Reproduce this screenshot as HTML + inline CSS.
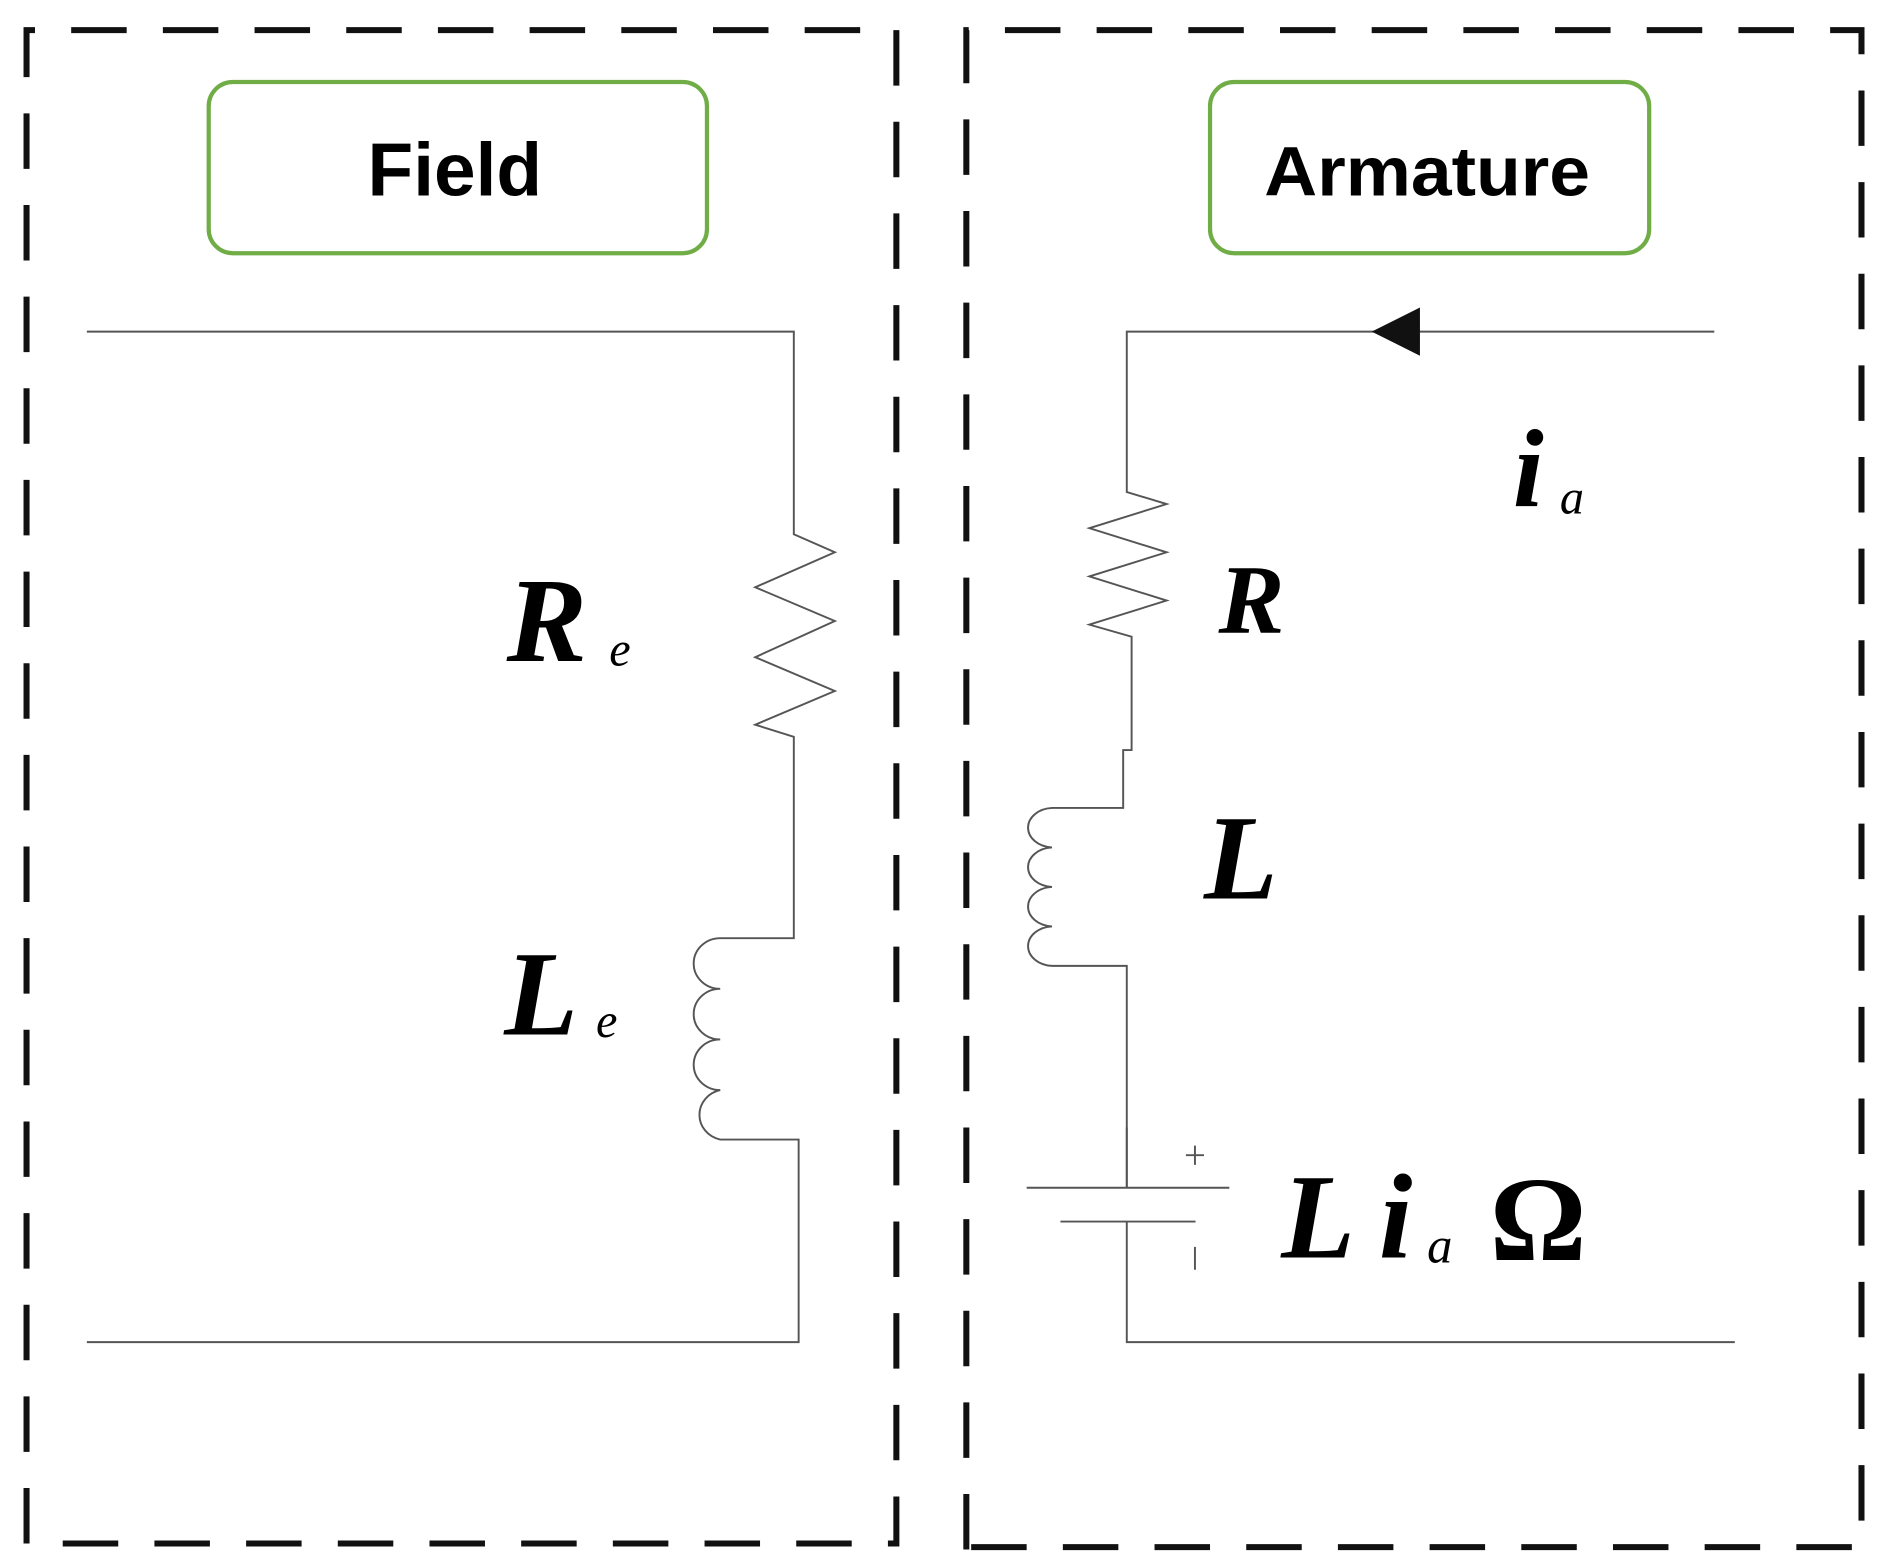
<!DOCTYPE html>
<html><head><style>
html,body{margin:0;padding:0;background:#fff;}
svg{display:block;}
</style></head><body>
<svg width="1882" height="1564" viewBox="0 0 1560 1297" preserveAspectRatio="none" xmlns="http://www.w3.org/2000/svg">
<g fill="none" stroke="#111" stroke-width="5" stroke-dasharray="46 30">
<path d="M22 1280 V25 H743 V1280 H22"/>
<path d="M801 1285 V25 H1543 V1283 H801"/>
</g>
<rect x="173" y="68" width="413" height="142" rx="20" fill="#fff" stroke="#70ad47" stroke-width="3.5"/>
<rect x="1003" y="68" width="364" height="142" rx="20" fill="#fff" stroke="#70ad47" stroke-width="3.5"/>
<text x="377" y="162" text-anchor="middle" font-family="Liberation Sans, sans-serif" font-weight="bold" font-size="62">Field</text>
<text x="1048" y="162" textLength="270" lengthAdjust="spacingAndGlyphs" font-family="Liberation Sans, sans-serif" font-weight="bold" font-size="58">Armature</text>
<g fill="none" stroke="#555" stroke-width="1.6">
<path d="M72 275 H658 V443 L692 458 L626 487 L692 515 L626 545 L692 573 L626 601 L658 611 V778 H597 a22 21 0 0 0 0 42 a22 21 0 0 0 0 42 a22 21 0 0 0 0 42 a22 21 0 0 0 0 41 H662 V1113 H72"/>
<path d="M1421 275 H934 V408 L967 418 L903 438 L967 458 L903 478 L967 498 L903 518 L938 528 V622 H931 V670 H872 a21 16.4 0 0 0 0 32.75 a21 16.4 0 0 0 0 32.75 a21 16.4 0 0 0 0 32.75 a21 16.4 0 0 0 0 32.75 H934 V985"/>
<path d="M851 985 H1019 M879 1013 H991 M934 1013 V1113 H1438 M934 935 V985"/>
<path d="M983 958 H998 M990.5 950 V966 M990.5 1034 V1053"/>
</g>
<polygon points="1137,275 1177,255 1177,295" fill="#111"/>
<g font-family="Liberation Serif, serif" font-style="italic" fill="#000">
<text x="420" y="548" font-size="100" font-weight="bold">R</text>
<text x="505" y="552" font-size="40">e</text>
<text x="418" y="858" font-size="100" font-weight="bold">L</text>
<text x="494" y="860" font-size="40">e</text>
<text x="1254" y="420" font-size="92" font-weight="bold">i</text>
<text x="1293" y="426" font-size="40">a</text>
<text x="1010" y="525" font-size="82" font-weight="bold">R</text>
<text x="998" y="745" font-size="100" font-weight="bold">L</text>
<text x="1062" y="1043" font-size="100" font-weight="bold">L</text>
<text x="1143" y="1043" font-size="100" font-weight="bold">i</text>
<text x="1183" y="1047" font-size="42">a</text>
<text x="1235" y="1045" font-size="100" font-weight="bold" font-style="normal">Ω</text>
</g>
</svg>
</body></html>
